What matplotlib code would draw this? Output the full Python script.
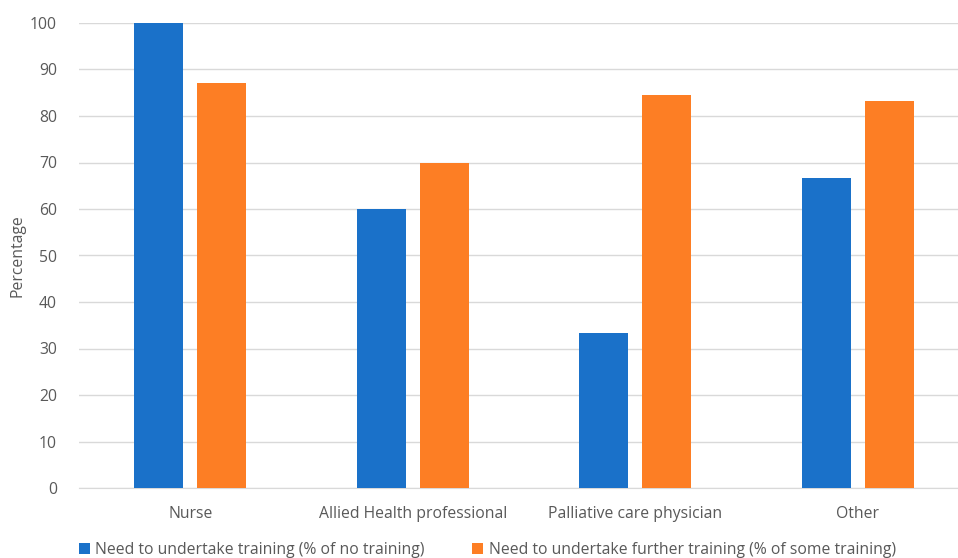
import numpy as np
import matplotlib
matplotlib.use("Agg")
import matplotlib.pyplot as plt

categories = ["Nurse", "Allied Health professional", "Palliative care physician", "Other"]
no_training = [100.0, 60.0, 33.3, 66.7]
some_training = [87.1, 70.0, 84.6, 83.3]
series_names = ["Need to undertake training (% of no training)",
                "Need to undertake further training (% of some training)"]

BLUE = "#1a71c9"
ORANGE = "#fd7e24"
TXT = "#595959"
FS = 11.3

plt.rcParams["font.family"] = ["Open Sans", "DejaVu Sans"]

fig = plt.figure(figsize=(9.58, 5.58), dpi=100)
ax = fig.add_axes([79/958, 70/558, 890/958, 465/558])

x = np.arange(len(categories))
w = 0.22
off = 0.1416
ax.bar(x - off, no_training, w, color=BLUE, label=series_names[0], zorder=3)
ax.bar(x + off, some_training, w, color=ORANGE, label=series_names[1], zorder=3)

ax.set_xlim(-0.5, 3.5)
ax.set_ylim(0, 100)
ax.set_yticks(range(0, 101, 10))
ax.yaxis.grid(True, color="#d9d9d9", lw=1.0, zorder=0)
ax.set_axisbelow(True)
for s in ["top", "right", "left"]:
    ax.spines[s].set_visible(False)
ax.spines["bottom"].set_color("#d9d9d9")
ax.tick_params(length=0, colors=TXT, labelsize=FS)
ax.tick_params(axis="y", pad=16)
ax.tick_params(axis="x", pad=13)
ax.set_xticks(x)
ax.set_xticklabels(categories)
ax.set_ylabel("Percentage", color=TXT, fontsize=FS, va="center")
ax.yaxis.set_label_coords(-62/890, 0.5)

fig.legend(loc="upper left", bbox_to_anchor=(79/958, 16/558), ncol=2,
           frameon=False, fontsize=FS, handlelength=0.7, handleheight=0.7,
           handletextpad=0.35, columnspacing=3.0, labelcolor=TXT,
           borderaxespad=0, borderpad=0)

fig.savefig("out.png", dpi=100)
